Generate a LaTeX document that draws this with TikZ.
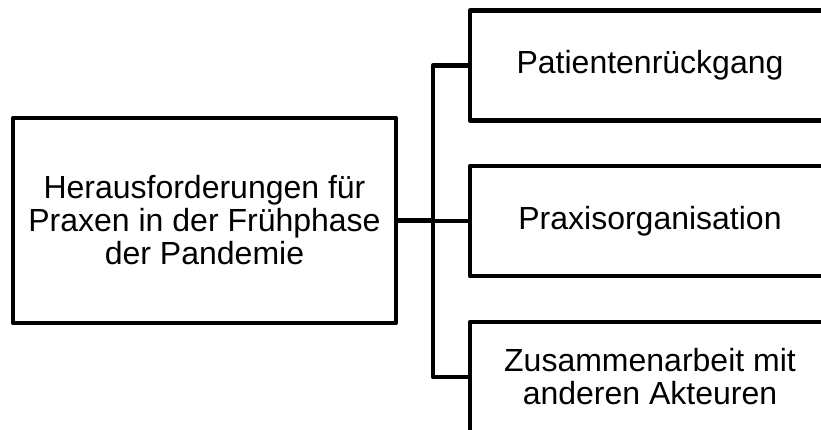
\documentclass[tikz,border=0pt]{standalone}
\usepackage{fontspec}
\setmainfont{Liberation Sans}
\begin{document}
\begin{tikzpicture}[x=1pt, y=-1pt, line width=4.5pt, line join=round,
    box/.style={draw, rectangle, align=center, inner sep=0pt,
        font=\fontsize{32}{33}\selectfont}]
    \clip (0,0) rectangle (821,430);
    \useasboundingbox (0,0) rectangle (821,430);
    % main topic
    \node[box, minimum width=383pt, minimum height=205pt] (main) at (204.5,220.5)
        {Herausforderungen für\\Praxen in der Frühphase\\der Pandemie};
    \coordinate (split) at (433,220.5);
    \draw (main.east) -- (split);
    % branches
    \foreach \name/\y/\txt in {pat/65.5/Patientenrückgang,
            org/221/Praxisorganisation,
            zus/377/{Zusammenarbeit mit\\anderen Akteuren}} {
        \node[box, minimum width=360pt, minimum height=110pt] (\name) at (650,\y) {\txt};
        \draw (\name.west) -| (split);
    }
\end{tikzpicture}
\end{document}
